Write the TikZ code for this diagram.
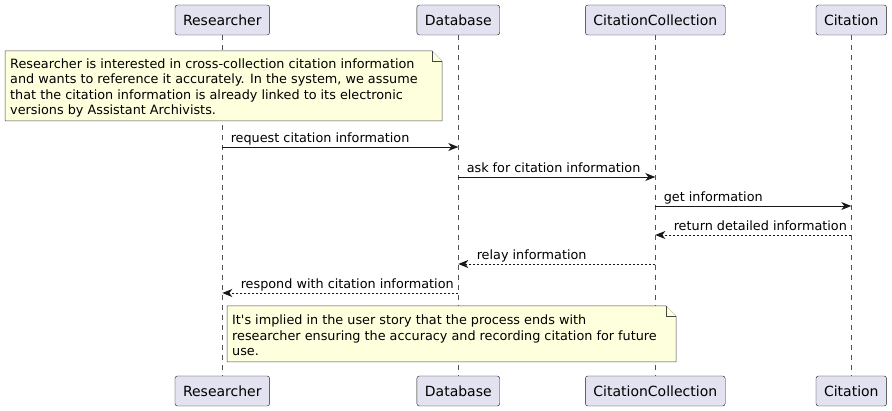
\documentclass[tikz,border=0pt]{standalone}
\usepackage{fontspec}
\setmainfont{DejaVu Sans}[Ligatures=TeXOff]
\usetikzlibrary{arrows.meta}
\definecolor{partfill}{HTML}{E2E2F0}
\definecolor{linecol}{HTML}{181818}
\definecolor{notefill}{HTML}{FEFFDD}
\begin{document}
\begin{tikzpicture}[x=1pt,y=-1pt,>={Stealth[length=10pt,width=8pt,inset=3pt]},
	part/.style={draw=linecol,fill=partfill,rounded corners=2.5pt,minimum height=30pt,inner xsep=8pt,font=\fontsize{14}{16}\selectfont},
	life/.style={draw=linecol!75,line width=0.5pt,dash pattern=on 5pt off 5pt},
	msg/.style={->,draw=linecol,line width=0.9pt},
	back/.style={msg,dash pattern=on 2pt off 2pt},
	lbl/.style={anchor=base west,inner sep=0pt,yshift=4pt,font=\fontsize{12.8}{15}\selectfont},
	notebox/.style={draw=linecol!80,fill=notefill,line width=0.5pt},
	notetext/.style={anchor=north west,inner sep=0pt,align=left,font=\fontsize{12.8}{15.5}\selectfont}]
	\useasboundingbox (0,0) rectangle (892,411);
	% participants, top and bottom
	\node[part] (rT) at (222.3,20) {Researcher};
	\node[part] (dT) at (458.3,20) {Database};
	\node[part] (cT) at (655.3,20) {CitationCollection};
	\node[part] (ciT) at (851.3,20) {Citation};
	\node[part] (rB) at (222.3,391) {Researcher};
	\node[part] (dB) at (458.3,391) {Database};
	\node[part] (cB) at (655.3,391) {CitationCollection};
	\node[part] (ciB) at (851.3,391) {Citation};
	\foreach \p in {r,d,c,ci}
		\draw[life] (\p T) -- (\p B);
	% message rows
	\foreach \n/\y in {1/147,2/177,3/206,4/235,5/264,6/293}
		\coordinate (m\n) at (0,\y);
	% first note
	\draw[notebox] (5,51) -- (432,51) -- (442,61) -- (442,121) -- (5,121) -- cycle;
	\draw[notebox] (432,51) -- (432,61) -- (442,61);
	\node[notetext] (n1) at (10,58.5) {Researcher is interested in cross-collection citation information\\and wants to reference it accurately. In the system, we assume\\that the citation information is already linked to its electronic\\versions by Assistant Archivists.};
	% messages
	\draw[msg] (rT |- m1) -- (dT |- m1) node[lbl,at start,xshift=8pt] {request citation information};
	\draw[msg] (dT |- m2) -- (cT |- m2) node[lbl,at start,xshift=8pt] {ask for citation information};
	\draw[msg] (cT |- m3) -- (ciT |- m3) node[lbl,at start,xshift=8pt] {get information};
	\draw[back] (ciT |- m4) -- (cT |- m4) node[lbl,at end,xshift=18pt] {return detailed information};
	\draw[back] (cT |- m5) -- (dT |- m5) node[lbl,at end,xshift=18pt] {relay information};
	\draw[back] (dT |- m6) -- (rT |- m6) node[lbl,at end,xshift=18pt] {respond with citation information};
	% closing note
	\draw[notebox] (227,306) -- (666,306) -- (676,316) -- (676,362) -- (227,362) -- cycle;
	\draw[notebox] (666,306) -- (666,316) -- (676,316);
	\node[notetext] (n2) at (232,315) {It's implied in the user story that the process ends with\\researcher ensuring the accuracy and recording citation for future\\use.};
\end{tikzpicture}
\end{document}
